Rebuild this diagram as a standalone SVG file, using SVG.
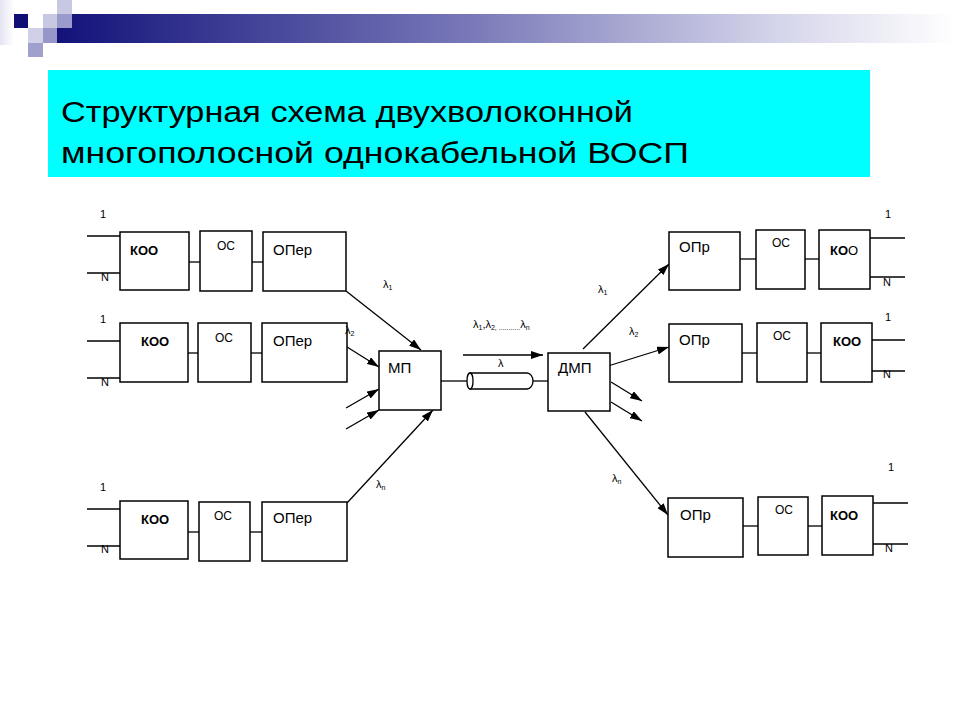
<svg xmlns="http://www.w3.org/2000/svg" width="960" height="720" viewBox="0 0 960 720">
<defs>
<linearGradient id="bar" x1="0" y1="0" x2="1" y2="0">
<stop offset="0" stop-color="#12127a"/>
<stop offset="0.45" stop-color="#7676b8"/>
<stop offset="0.8" stop-color="#d4d4ea"/>
<stop offset="1" stop-color="#ffffff"/>
</linearGradient>
<linearGradient id="fade" x1="0" y1="0" x2="1" y2="0">
<stop offset="0" stop-color="#e4e4f2"/>
<stop offset="1" stop-color="#ffffff"/>
</linearGradient>
<marker id="ah" viewBox="0 0 12 8" refX="12" refY="4" markerWidth="12" markerHeight="8" markerUnits="userSpaceOnUse" orient="auto">
<path d="M0,0 L12,4 L0,8 z" fill="#000"/>
</marker>
<style>
.box{fill:#fff;stroke:#000;stroke-width:1.5}
.ln{stroke:#000;stroke-width:1.3;fill:none}
.ar{stroke:#000;stroke-width:1.3;fill:none;marker-end:url(#ah)}
text{font-family:"Liberation Sans",Arial,sans-serif;fill:#000}
.big{font-size:15px}
.koo{font-size:13px;font-weight:bold}
.os{font-size:12px}
.num{font-size:11px}
.lam{font-size:11px}
.sub{font-size:7px}
.title{font-size:30px}
</style>
</defs>
<rect width="960" height="720" fill="#fff"/>
<g id="decor">
<rect x="0" y="0" width="14" height="45" fill="url(#fade)"/>
<rect x="57" y="14" width="898" height="29" fill="url(#bar)"/>
<rect x="57" y="0" width="15" height="14" fill="#c8c8e2"/>
<rect x="14" y="14" width="14" height="14" fill="#0e0e74"/>
<rect x="43" y="14" width="14" height="14" fill="#c8c8e2"/>
<rect x="57" y="14" width="15" height="14" fill="#9a9acc"/>
<rect x="28" y="28" width="15" height="15" fill="#d0d0e8"/>
<rect x="43" y="28" width="14" height="15" fill="#9696c8"/>
<rect x="28" y="43" width="15" height="14" fill="#a0a0cc"/>
</g>
<g id="title">
<rect x="48" y="70" width="822" height="107" fill="#00ffff"/>
<text class="title" x="61" y="122" textLength="572" lengthAdjust="spacingAndGlyphs">Структурная схема двухволоконной</text>
<text class="title" x="61" y="163" textLength="628" lengthAdjust="spacingAndGlyphs">многополосной однокабельной ВОСП</text>
</g>
<g id="connectors">
<!-- left row1 -->
<line class="ln" x1="87" y1="236" x2="120" y2="236"/>
<line class="ln" x1="87" y1="273" x2="120" y2="273"/>
<line class="ln" x1="189" y1="262" x2="200" y2="262"/>
<line class="ln" x1="252" y1="262" x2="263" y2="262"/>
<!-- left row2 -->
<line class="ln" x1="87" y1="341" x2="120" y2="341"/>
<line class="ln" x1="87" y1="378" x2="120" y2="378"/>
<line class="ln" x1="188" y1="353" x2="198" y2="353"/>
<line class="ln" x1="251" y1="353" x2="262" y2="353"/>
<!-- left row3 -->
<line class="ln" x1="87" y1="509" x2="120" y2="509"/>
<line class="ln" x1="87" y1="546" x2="120" y2="546"/>
<line class="ln" x1="188" y1="532" x2="199" y2="532"/>
<line class="ln" x1="250" y1="532" x2="262" y2="532"/>
<!-- into MP -->
<line class="ar" x1="346" y1="291" x2="421" y2="350"/>
<line class="ar" x1="347" y1="347" x2="379" y2="367"/>
<line class="ar" x1="346" y1="408" x2="379" y2="389"/>
<line class="ar" x1="346" y1="429" x2="379" y2="410"/>
<line class="ar" x1="347" y1="503" x2="433" y2="410"/>
<!-- cable -->
<line class="ln" x1="441" y1="381" x2="469" y2="381"/>
<line class="ln" x1="533" y1="381" x2="548" y2="381"/>
<path d="M470,373 L527,373 A6,8 0 0 1 527,389 L470,389 z" fill="#fff" stroke="#000" stroke-width="1.3"/>
<ellipse cx="470" cy="381" rx="3" ry="8" fill="#fff" stroke="#000" stroke-width="1.3"/>
<line class="ar" x1="463" y1="355" x2="543" y2="355"/>
<!-- out of DMP -->
<line class="ar" x1="583" y1="349" x2="669" y2="264"/>
<line class="ar" x1="608" y1="366" x2="669" y2="347"/>
<line class="ar" x1="611" y1="382" x2="642" y2="401"/>
<line class="ar" x1="611" y1="402" x2="642" y2="421"/>
<line class="ar" x1="585" y1="412" x2="668" y2="515"/>
<!-- right row1 -->
<line class="ln" x1="740" y1="259" x2="756" y2="259"/>
<line class="ln" x1="805" y1="259" x2="819" y2="259"/>
<line class="ln" x1="870" y1="238" x2="905" y2="238"/>
<line class="ln" x1="870" y1="277" x2="905" y2="277"/>
<!-- right row2 -->
<line class="ln" x1="742" y1="353" x2="757" y2="353"/>
<line class="ln" x1="807" y1="353" x2="821" y2="353"/>
<line class="ln" x1="872" y1="340" x2="905" y2="340"/>
<line class="ln" x1="872" y1="371" x2="905" y2="371"/>
<!-- right row3 -->
<line class="ln" x1="743" y1="526" x2="758" y2="526"/>
<line class="ln" x1="808" y1="526" x2="822" y2="526"/>
<line class="ln" x1="873" y1="503" x2="908" y2="503"/>
<line class="ln" x1="873" y1="544" x2="908" y2="544"/>
</g>
<g id="koo-l1"><rect class="box" x="120" y="232" width="69" height="58"/><text class="koo" x="130" y="255">КОО</text></g>
<g id="os-l1"><rect class="box" x="200" y="231" width="52" height="60"/><text class="os" x="217" y="250">ОС</text></g>
<g id="oper-l1"><rect class="box" x="263" y="232" width="83" height="59"/><text class="big" x="273" y="255">ОПер</text></g>
<g id="koo-l2"><rect class="box" x="120" y="323" width="68" height="59"/><text class="koo" x="141" y="346">КОО</text></g>
<g id="os-l2"><rect class="box" x="198" y="323" width="53" height="59"/><text class="os" x="215" y="342">ОС</text></g>
<g id="oper-l2"><rect class="box" x="262" y="323" width="85" height="59"/><text class="big" x="273" y="346">ОПер</text></g>
<g id="koo-l3"><rect class="box" x="120" y="501" width="68" height="58"/><text class="koo" x="141" y="524">КОО</text></g>
<g id="os-l3"><rect class="box" x="199" y="502" width="51" height="59"/><text class="os" x="214" y="520">ОС</text></g>
<g id="oper-l3"><rect class="box" x="262" y="502" width="85" height="59"/><text class="big" x="273" y="523">ОПер</text></g>
<g id="mp"><rect class="box" x="379" y="351" width="62" height="59"/><text class="big" x="388" y="373">МП</text></g>
<g id="dmp"><rect class="box" x="548" y="353" width="62" height="58"/><text class="big" x="558" y="373">ДМП</text></g>
<g id="opr-r1"><rect class="box" x="669" y="232" width="71" height="58"/><text class="big" x="679" y="252">ОПр</text></g>
<g id="os-r1"><rect class="box" x="756" y="230" width="49" height="59"/><text class="os" x="772" y="247">ОС</text></g>
<g id="koo-r1"><rect class="box" x="819" y="230" width="51" height="59"/><text class="koo" x="830" y="255">КО<tspan font-weight="normal">О</tspan></text></g>
<g id="opr-r2"><rect class="box" x="669" y="324" width="73" height="58"/><text class="big" x="679" y="345">ОПр</text></g>
<g id="os-r2"><rect class="box" x="757" y="323" width="50" height="59"/><text class="os" x="773" y="340">ОС</text></g>
<g id="koo-r2"><rect class="box" x="821" y="323" width="51" height="59"/><text class="koo" x="833" y="346">КОО</text></g>
<g id="opr-r3"><rect class="box" x="668" y="498" width="75" height="59"/><text class="big" x="680" y="520">ОПр</text></g>
<g id="os-r3"><rect class="box" x="758" y="497" width="50" height="58"/><text class="os" x="775" y="514">ОС</text></g>
<g id="koo-r3"><rect class="box" x="822" y="496" width="51" height="59"/><text class="koo" x="830" y="520">КОО</text></g>
<g id="labels">
<text class="num" x="100" y="218">1</text>
<text class="num" x="101" y="281">N</text>
<text class="num" x="100" y="323">1</text>
<text class="num" x="101" y="386">N</text>
<text class="num" x="100" y="491">1</text>
<text class="num" x="101" y="553">N</text>
<text class="num" x="885" y="218">1</text>
<text class="num" x="883" y="286">N</text>
<text class="num" x="885" y="321">1</text>
<text class="num" x="883" y="378">N</text>
<text class="num" x="888" y="471">1</text>
<text class="num" x="885" y="552">N</text>
<text class="lam" x="383" y="288">λ<tspan class="sub" dy="2">1</tspan></text>
<text class="lam" x="345" y="334">λ<tspan class="sub" dy="2">2</tspan></text>
<text class="lam" x="376" y="488">λ<tspan class="sub" dy="2">n</tspan></text>
<text class="lam" x="473" y="328">λ<tspan class="sub" dy="2">1</tspan><tspan dy="-2">,</tspan>λ<tspan class="sub" dy="2">2,</tspan><tspan class="sub"> ...........</tspan><tspan dy="-2">λ</tspan><tspan class="sub" dy="2">n</tspan></text>
<text class="lam" x="498" y="367">λ</text>
<text class="lam" x="598" y="293">λ<tspan class="sub" dy="2">1</tspan></text>
<text class="lam" x="629" y="335">λ<tspan class="sub" dy="2">2</tspan></text>
<text class="lam" x="612" y="482">λ<tspan class="sub" dy="2">n</tspan></text>
</g>
</svg>
